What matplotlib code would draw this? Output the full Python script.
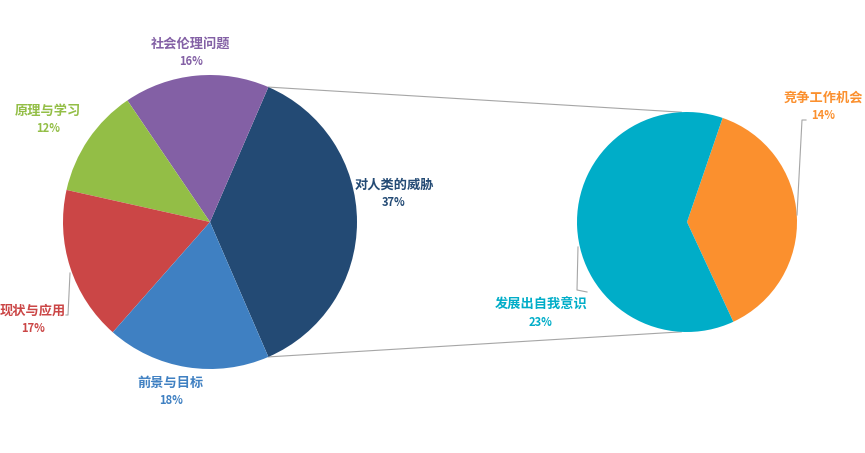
import numpy as np
import matplotlib.pyplot as plt

plt.rcParams['font.family'] = ['Noto Sans CJK SC', 'DejaVu Sans']

# main pie, counter-clockwise starting from the exploded slice
main_labels = ['对人类的威胁', '社会伦理问题', '原理与学习', '现状与应用', '前景与目标']
main_values = [37, 16, 12, 17, 18]
main_colors = ['#234A74', '#8360A5', '#93BE46', '#CB4646', '#3F80C2']

# secondary pie: breakdown of 对人类的威胁
sub_labels = ['竞争工作机会', '发展出自我意识']
sub_values = [14, 23]
sub_colors = ['#FB902E', '#00ADC8']

W, H = 865, 453
fig = plt.figure(figsize=(W / 100, H / 100), dpi=100)
ax = fig.add_axes([0, 0, 1, 1])

def py(y):
    # picture rows -> axes y
    return H - y

c1, r1 = (210, py(222)), 147
c2, r2 = (687, py(222)), 110

start1 = -main_values[0] / sum(main_values) * 360 / 2
ax.pie(main_values, colors=main_colors, startangle=start1, center=c1, radius=r1,
       counterclock=True, wedgeprops=dict(linewidth=0), frame=True)

span2 = sub_values[0] / sum(sub_values) * 360
start2 = 3 - span2 / 2
ax.pie(sub_values, colors=sub_colors, startangle=start2, center=c2, radius=r2,
       counterclock=True, wedgeprops=dict(linewidth=0), frame=True)
ax.set_xlim(0, W)
ax.set_ylim(0, H)
ax.set_aspect('equal')
ax.axis('off')

# connector lines between the pies
th = np.radians(-start1)
for s in (1, -1):
    p1 = (c1[0] + r1 * np.cos(th), c1[1] + s * r1 * np.sin(th))
    p2 = (c2[0] + r2 * np.cos(np.radians(93)), c2[1] + s * r2 * np.sin(np.radians(93)))
    ax.plot([p1[0], p2[0]], [p1[1], p2[1]], color='#A6A6A6', lw=0.8, zorder=0)

# label placement (picture coords: x, y of name line)
main_pos = [(394, 185), (191, 44), (48, 111), (33, 311), (171, 383)]
sub_pos = [(823, 98), (541, 305)]

def put_labels(labels, values, colors, pos, total):
    for lab, v, col, (x, y) in zip(labels, values, colors, pos):
        ax.text(x, py(y), lab, color=col, fontsize=9.5, fontweight='bold',
                ha='center', va='center')
        ax.text(x, py(y + 17.5), f'{round(v / total * 100)}%', color=col,
                fontsize=8, fontweight='bold', ha='center', va='center')

put_labels(main_labels, main_values, main_colors, main_pos, sum(main_values))
put_labels(sub_labels, sub_values, sub_colors, sub_pos, sum(main_values))

# leader lines
lc = '#A6A6A6'
ax.plot([70, 68, 66], [py(273), py(315), py(315)], color=lc, lw=0.8)
ax.plot([797, 802, 806], [py(215), py(120), py(120)], color=lc, lw=0.8)
ax.plot([578, 577, 587], [py(247), py(290), py(292)], color=lc, lw=0.8)

fig.savefig('out.png', dpi=100, facecolor='white')
